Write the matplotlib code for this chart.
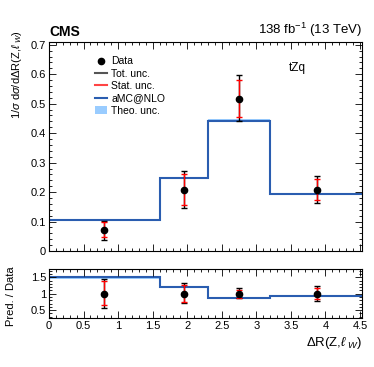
import matplotlib
matplotlib.use("Agg")
import matplotlib.pyplot as plt
import numpy as np
from matplotlib.ticker import MultipleLocator
from matplotlib.lines import Line2D
from matplotlib.patches import Patch

plt.rcParams['font.family'] = ['Liberation Sans', 'DejaVu Sans']
plt.rcParams['mathtext.fontset'] = 'custom'
plt.rcParams['mathtext.rm'] = 'Liberation Sans'
plt.rcParams['mathtext.it'] = 'Liberation Sans:italic'

# Data
bin_edges = [0.0, 1.6, 2.3, 3.2, 4.53]
pred = [0.105, 0.248, 0.443, 0.192]
theo_unc = [0.003, 0.004, 0.004, 0.003]
data_x = [0.80, 1.95, 2.75, 3.88]
data_y = [0.070, 0.207, 0.516, 0.207]
tot_lo = [0.039, 0.147, 0.440, 0.162]
tot_hi = [0.101, 0.273, 0.598, 0.256]
stat_lo = [0.046, 0.155, 0.455, 0.172]
stat_hi = [0.097, 0.263, 0.580, 0.245]

blue = '#2a5db0'
band = '#99ccff'

fig = plt.figure(figsize=(3.74, 3.67), dpi=100)
ax = fig.add_axes([0.131, 0.316, 0.837, 0.570])
rax = fig.add_axes([0.131, 0.1327, 0.837, 0.1343])

edges = np.array(bin_edges)
pred = np.array(pred)
theo = np.array(theo_unc)
dx = np.array(data_x); dy = np.array(data_y)
tl = np.array(tot_lo); th = np.array(tot_hi)
sl = np.array(stat_lo); sh = np.array(stat_hi)

def draw(a, p, t, y, tlo, thi, slo, shi):
    a.stairs(p + t, edges, baseline=p - t, fill=True, color=band, lw=0)
    a.stairs(p, edges, baseline=None, color=blue, lw=1.5)
    a.errorbar(dx, y, yerr=[y - tlo, thi - y], fmt='none', ecolor='black',
               elinewidth=1.0, capsize=2.5, capthick=1.0, zorder=3)
    a.errorbar(dx, y, yerr=[y - slo, shi - y], fmt='none', ecolor='red',
               elinewidth=1.0, capsize=2.5, capthick=1.0, zorder=4)
    a.plot(dx, y, 'o', color='black', ms=4.5, zorder=5)

draw(ax, pred, theo, dy, tl, th, sl, sh)
draw(rax, pred / dy, theo / dy, dy / dy, tl / dy, th / dy, sl / dy, sh / dy)

for a in (ax, rax):
    a.set_xlim(0, 4.53)
    a.xaxis.set_major_locator(MultipleLocator(0.5))
    a.xaxis.set_minor_locator(MultipleLocator(0.1))
    a.tick_params(which='both', direction='in', top=True, right=True, labelsize=8, pad=2)
    a.tick_params(which='major', length=5, width=0.6)
    a.tick_params(which='minor', length=2.5, width=0.6)
    for s in a.spines.values():
        s.set_linewidth(0.8)

ax.set_ylim(0, 0.71)
ax.set_yticks([0, 0.1, 0.2, 0.3, 0.4, 0.5, 0.6, 0.7])
ax.set_yticklabels(['0', '0.1', '0.2', '0.3', '0.4', '0.5', '0.6', '0.7'])
ax.yaxis.set_minor_locator(MultipleLocator(0.02))
ax.tick_params(axis='x', labelbottom=False)
ax.set_ylabel(r'1/$\sigma$ d$\sigma$/d$\Delta$R(Z,$\ell$$_{\ W}$)', fontsize=8, labelpad=5,
              loc='top')
ax.yaxis.label.set_y(1.056)

rax.set_ylim(0.25, 1.75)
rax.set_yticks([0.5, 1, 1.5])
rax.set_yticklabels(['0.5', '1', '1.5'])
rax.yaxis.set_minor_locator(MultipleLocator(0.1))
rax.set_xticks([0, 0.5, 1, 1.5, 2, 2.5, 3, 3.5, 4, 4.5])
rax.set_xticklabels(['0', '0.5', '1', '1.5', '2', '2.5', '3', '3.5', '4', '4.5'])
rax.set_ylabel('Pred. / Data', fontsize=8, labelpad=11)
rax.yaxis.label.set_y(0.45)
rax.set_xlabel(r'$\Delta$R(Z,$\ell$$_{\ W}$)', fontsize=9.5, loc='right', labelpad=3)

ax.text(0.0, 1.015, 'CMS', transform=ax.transAxes, fontsize=10, fontweight='bold',
        ha='left', va='bottom')
ax.text(1.0, 1.015, r'138 fb$^{-1}$ (13 TeV)', transform=ax.transAxes, fontsize=9.5,
        ha='right', va='bottom')
ax.text(0.765, 0.875, 'tZq', transform=ax.transAxes, fontsize=8.5, ha='left', va='center')

handles = [
    Line2D([], [], marker='o', color='black', ls='none', ms=4.5),
    Line2D([], [], color='#555555', lw=1.5),
    Line2D([], [], color='#ff4444', lw=1.5),
    Line2D([], [], color=blue, lw=1.5),
    Patch(facecolor=band, edgecolor='none'),
]
labels = ['Data', 'Tot. unc.', 'Stat. unc.', 'aMC@NLO', 'Theo. unc.']
ax.legend(handles, labels, loc='upper left', bbox_to_anchor=(0.125, 0.965), frameon=False,
          fontsize=7.5, handlelength=1.1, handletextpad=0.4, labelspacing=0.22,
          borderpad=0.2)

fig.savefig('out.png', dpi=100)
